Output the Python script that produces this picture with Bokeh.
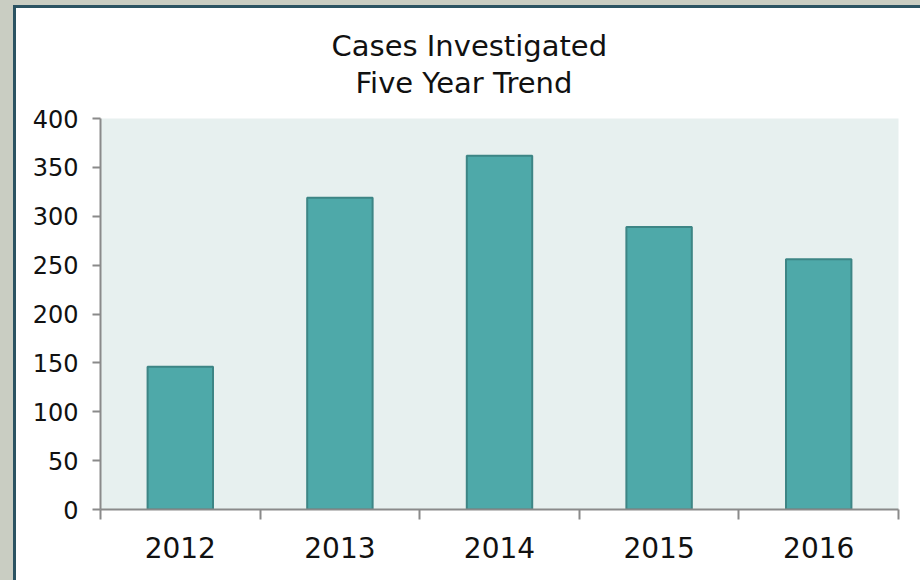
from bokeh.plotting import figure
from bokeh.models import Title, Range1d, ColumnDataSource, FixedTicker
from bokeh.embed import file_html
from bokeh.resources import INLINE

# ---- data ----
years = ["2012", "2013", "2014", "2015", "2016"]
cases = [146, 319, 362, 289, 256]
y_ticks = [0, 50, 100, 150, 200, 250, 300, 350, 400]
title_lines = ["Cases Investigated", "Five Year Trend"]

FONT = "DejaVu Sans"
GRAY = "#8A8A8A"

n = len(years)
centers = [i + 0.5 for i in range(n)]
bounds = [float(i) for i in range(n + 1)]

source = ColumnDataSource(data=dict(x=centers, top=cases, year=years))

p = figure(
    width=904, height=572,
    x_range=Range1d(0, n), y_range=Range1d(0, 400),
    output_backend="svg", toolbar_location=None,
    min_border_left=84, min_border_top=110,
    min_border_right=22, min_border_bottom=71,
)
p.title.visible = False
p.styles = {
    "margin-left": "16px",
    "margin-top": "8px",
    "box-shadow": "0 0 0 3px #2B5362, 0 0 0 16px #C9CDC2",
}

p.background_fill_color = "#E7F0EF"
p.border_fill_color = "white"
p.outline_line_color = None
p.grid.visible = False

p.vbar(x="x", top="top", width=0.41, source=source,
       fill_color="#4EA9A9", line_color="#3D8585", line_width=2)

# x axis: labels at centers, tick marks at category boundaries
xa = p.xaxis[0]
xa.ticker = FixedTicker(ticks=centers, minor_ticks=bounds)
xa.major_label_overrides = {c: y for c, y in zip(centers, years)}
xa.major_tick_out = 0
xa.major_tick_in = 0
xa.major_tick_line_color = None
xa.minor_tick_out = 10
xa.minor_tick_in = 0
xa.minor_tick_line_color = GRAY
xa.minor_tick_line_width = 2
xa.axis_line_color = GRAY
xa.axis_line_width = 2
xa.major_label_standoff = 17
xa.major_label_text_font = FONT
xa.major_label_text_font_size = "28px"
xa.major_label_text_color = "#111111"

ya = p.yaxis[0]
ya.ticker = FixedTicker(ticks=y_ticks)
ya.minor_tick_line_color = None
ya.major_tick_out = 8
ya.major_tick_in = 0
ya.major_tick_line_color = GRAY
ya.major_tick_line_width = 2
ya.axis_line_color = GRAY
ya.axis_line_width = 2
ya.major_label_standoff = 14
ya.major_label_text_font = FONT
ya.major_label_text_font_size = "24px"
ya.major_label_text_color = "#111111"

# two-line title centred on the white panel (lower line added first: it sits nearest the frame)
title_offsets = [231, 255]
title_standoffs = [-37, 38]
for line, off, so in reversed(list(zip(title_lines, title_offsets, title_standoffs))):
    p.add_layout(Title(
        text=line, align="left", offset=off, standoff=so,
        text_font=FONT, text_font_size="29px", text_font_style="normal",
        text_color="#111111",
    ), "above")

open("out.html", "w").write(file_html(p, INLINE))
